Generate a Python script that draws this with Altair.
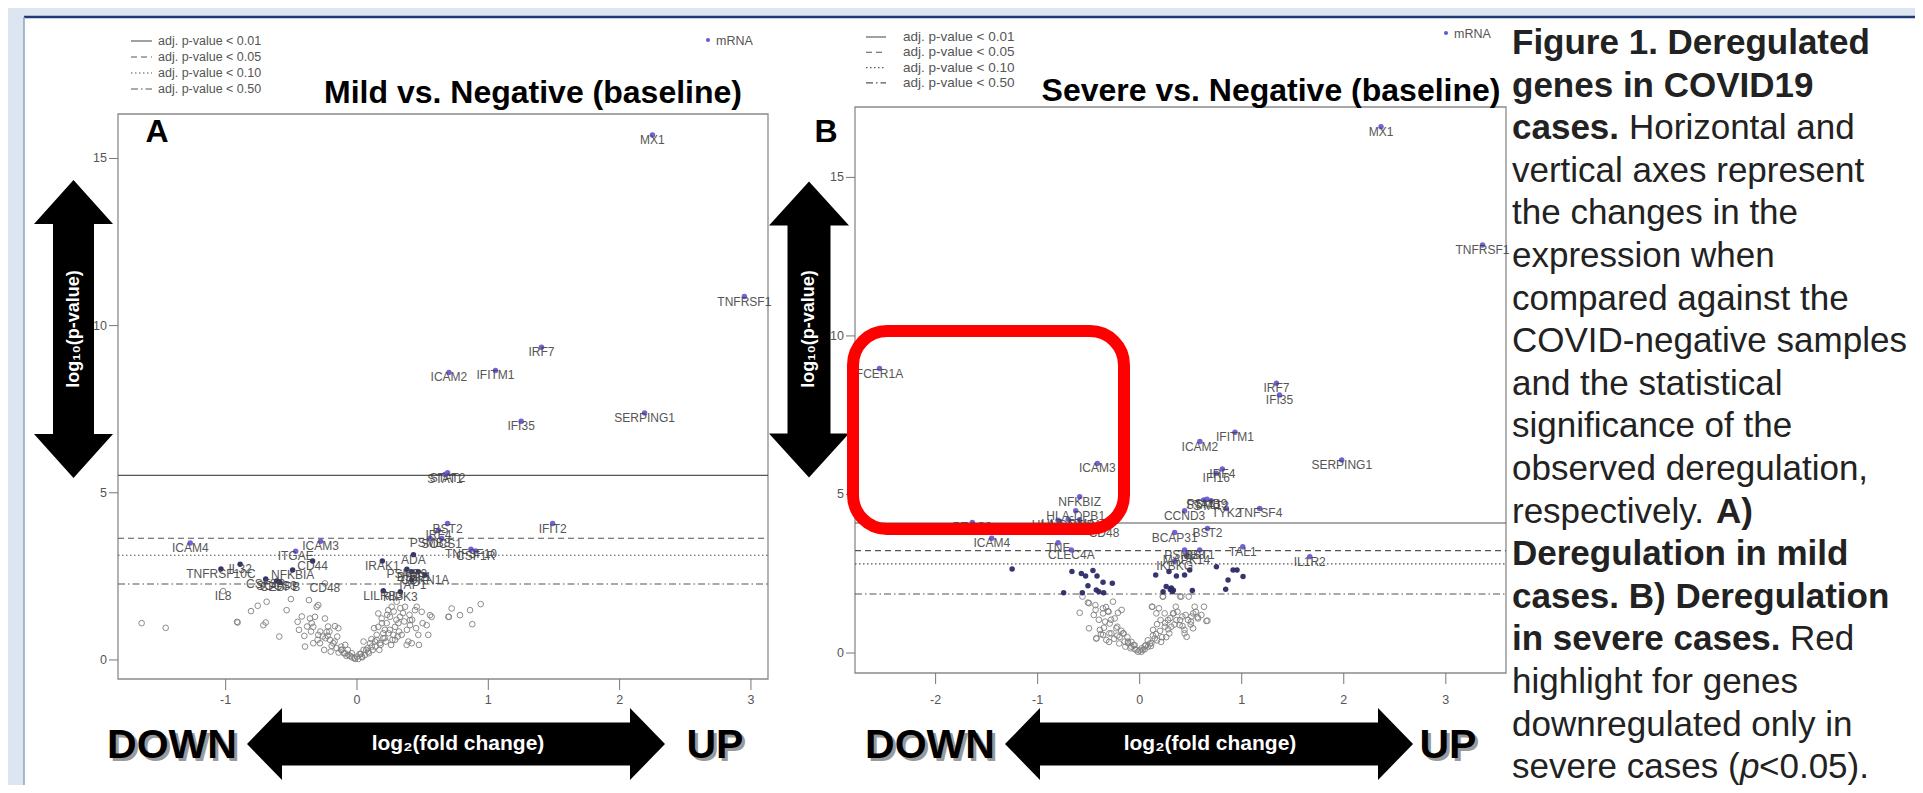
import altair as alt
import pandas as pd

# ---------------- data ----------------
# Panel A: Mild vs. Negative (baseline) -- labelled genes
A_genes = ["MX1", "TNFRSF1", "IRF7", "ICAM2", "IFITM1", "IFI35", "SERPING1", "STAT1", "STAT2",
           "BST2", "IFIT2", "IRF4", "PSMB8", "SOCS1", "TNFSF10", "CSF1R", "ADA", "IRAK1",
           "PSMB9", "BST1", "CDKN1A", "TAP1", "IRF1", "LILRB3", "RIPK3", "ICAM4", "ICAM3",
           "ITGAE", "CD44", "IL32", "TNFRSF10C", "NFKBIA", "CSF3R", "SOCS3", "CEBPB", "CD48", "IL8"]
A_lfc = [2.25, 2.95, 1.405, 0.70, 1.055, 1.25, 2.19, 0.67, 0.69,
         0.69, 1.49, 0.62, 0.556, 0.645, 0.868, 0.904, 0.43, 0.193,
         0.38, 0.417, 0.518, 0.417, 0.467, 0.20, 0.33, -1.27, -0.277,
         -0.467, -0.338, -0.89, -1.036, -0.49, -0.695, -0.612, -0.586, -0.244, -1.02]
A_logp = [15.7, 10.87, 9.35, 8.6, 8.66, 7.14, 7.39, 5.55, 5.6,
          4.08, 4.08, 3.88, 3.64, 3.63, 3.31, 3.26, 3.15, 2.96,
          2.71, 2.64, 2.54, 2.39, 2.64, 2.07, 2.04, 3.50, 3.55,
          3.25, 2.96, 2.86, 2.72, 2.69, 2.42, 2.36, 2.32, 2.29, 2.06]
A_open_labelled = ["CD48", "IL8"]
# Panel A: non-significant genes (open grey circles)
A_ns_lfc = [-1.64, -1.457, -0.909, -0.914, -0.807, -0.756, -0.688, -0.713, -0.695, -0.592, -0.536,
            -0.503, -0.452, -0.442, -0.401, -0.396, -0.366, -0.358, -0.345, -0.333, -0.32, -0.307,
            -0.295, -0.333, -0.295, -0.282, -0.244, -0.231, -0.223, -0.206, -0.168, -0.142, -0.193,
            -0.155, -0.117, -0.091, -0.066, -0.04, -0.015, 0.01, 0.036, 0.061, 0.086, 0.112, 0.137,
            0.15, 0.162, 0.162, 0.188, 0.175, 0.20, 0.213, 0.226, 0.238, 0.251, 0.264, 0.277, 0.29,
            0.302, 0.315, 0.328, 0.340, 0.366, 0.378, 0.391, 0.404, 0.404, 0.417, 0.442, 0.455,
            0.467, 0.472, 0.493, 0.531, 0.543, 0.556, 0.569, 0.70, 0.721, 0.784, 0.861, 0.942,
            0.878, 0.696, -0.12, -0.05, 0.03, 0.07, 0.11, -0.09, 0.05, 0.24, 0.29, -0.21, -0.26,
            -0.25, -0.20, -0.18, -0.12, -0.10, -0.07, -0.04, 0.00, 0.02, 0.05, 0.08, 0.10, 0.12,
            0.15, 0.18, 0.20, 0.22, 0.25, 0.27, 0.30, 0.32, 0.35, 0.38, 0.42, 0.45, 0.50, -0.30,
            -0.35, -0.38, -0.42, -0.28, -0.22, -0.15, 0.13, 0.19, 0.23, 0.28, 0.33, 0.36, 0.40,
            -0.14, -0.08, -0.02, 0.04, 0.09, 0.14, 0.17, 0.21, 0.26, 0.31, -0.17, -0.24]
A_ns_logp = [1.10, 0.96, 1.12, 1.14, 1.46, 1.62, 1.74, 1.04, 1.12, 0.70, 1.49,
             1.82, 1.14, 0.90, 0.72, 0.40, 1.79, 1.24, 1.10, 0.99, 1.29, 1.59,
             1.64, 0.50, 0.75, 0.50, 1.24, 0.84, 0.72, 0.60, 1.01, 0.95, 0.42,
             0.35, 0.30, 0.20, 0.15, 0.08, 0.03, 0.03, 0.10, 0.15, 0.25, 0.40, 0.55,
             0.75, 0.99, 1.39, 1.24, 0.50, 0.65, 0.90, 1.10, 1.49, 1.29, 1.59, 0.75, 0.99,
             1.74, 1.10, 1.29, 0.75, 1.59, 0.45, 0.55, 1.19, 1.04, 0.50, 1.49, 1.59,
             0.75, 0.45, 1.44, 1.04, 0.75, 1.34, 1.29, 1.29, 1.54, 1.34, 1.49, 1.67,
             1.07, 1.29, 0.30, 0.12, 0.18, 0.30, 0.62, 0.45, 0.55, 0.80, 0.60, 0.85, 0.70,
             0.30, 0.25, 0.50, 0.40, 0.20, 0.30, 0.20, 0.10, 0.18, 0.30, 0.35, 0.50, 0.30,
             0.60, 0.45, 0.80, 0.55, 0.90, 0.60, 1.20, 0.85, 1.40, 0.90, 1.20, 0.95, 1.10, 0.60,
             0.85, 1.00, 1.30, 0.85, 1.00, 0.70, 0.95, 1.10, 1.35, 1.45, 1.55, 1.15, 1.35,
             0.22, 0.12, 0.06, 0.08, 0.20, 0.40, 0.30, 0.65, 0.45, 0.70, 0.55, 0.65]

# Panel B: Severe vs. Negative (baseline) -- labelled genes
B_genes = ["MX1", "TNFRSF1", "FCER1A", "IRF7", "IFI35", "IFITM1", "ICAM2", "SERPING1", "ICAM3",
           "IRF4", "IFI16", "NFKBIZ", "HLA-DPB1", "HLA-DRA", "HLA-DMA", "HLA-DPA1", "STAT1",
           "PSMB9", "STAT2", "TYK2", "TNFSF4", "CCND3", "PTGS2", "CD48", "ICAM4", "TNF", "CLEC4A",
           "BCAP31", "BST2", "TAL1", "IL1R2", "PSMB8", "BST1", "MAPK14", "IKBKG"]
B_lfc = [2.365, 3.36, -2.55, 1.34, 1.37, 0.934, 0.59, 1.98, -0.415,
         0.81, 0.75, -0.588, -0.627, -0.80, -0.70, -0.59, 0.627,
         0.66, 0.70, 0.85, 1.176, 0.44, -1.64, -0.35, -1.45, -0.80, -0.67,
         0.343, 0.664, 1.01, 1.667, 0.44, 0.588, 0.458, 0.343]
B_logp = [16.6, 12.87, 8.97, 8.51, 8.14, 6.96, 6.67, 6.09, 5.98,
          5.80, 5.67, 4.93, 4.49, 4.19, 4.22, 4.20, 4.83,
          4.85, 4.80, 4.56, 4.56, 4.49, 4.12, 3.95, 3.62, 3.48, 3.25,
          3.80, 3.93, 3.35, 3.04, 3.25, 3.25, 3.09, 2.90]
# Panel B: significant but unlabelled genes (filled navy)
B_sig_lfc = [-1.25, -0.664, -0.572, -0.53, -0.458, -0.418, -0.359, -0.268, -0.507, -0.425, -0.353,
             -0.745, -0.562, -0.40, 0.157, 0.287, 0.36, 0.44, 0.49, 0.752, 0.915, 0.954, 1.013,
             0.866, 0.843, 0.516, 0.30, 0.31, 0.32, 0.33, 0.229, 0.26]
B_sig_logp = [2.65, 2.57, 2.51, 2.43, 2.60, 2.43, 2.23, 2.20, 2.12, 1.99, 1.90,
              1.90, 1.90, 1.93, 2.46, 2.57, 2.43, 2.46, 2.62, 2.72, 2.62, 2.62, 2.41,
              2.30, 2.01, 1.97, 2.00, 2.05, 1.93, 1.98, 1.93, 2.10]
# Panel B: non-significant genes (open grey circles)
B_ns_lfc = [-0.588, -0.507, -0.434, -0.497, -0.359, -0.31, -0.245, -0.294, -0.213, -0.425, -0.359,
            -0.327, -0.278, -0.229, -0.196, -0.164, -0.147, -0.115, -0.081, -0.049, -0.017, 0.017,
            0.049, 0.081, 0.115, 0.147, 0.131, 0.17, 0.124, 0.189, 0.229, 0.245, 0.278, 0.31, 0.327,
            0.36, 0.392, 0.418, 0.408, 0.44, 0.474, 0.507, 0.523, 0.572, 0.605, 0.654, 0.539,
            -0.561, -0.497, -0.432, -0.36, -0.305, -0.262, -0.177, -0.339, -0.39, -0.424, -0.297,
            -0.22, -0.157, -0.114, 0.12, 0.163, 0.205, 0.247, 0.29, 0.332, 0.354, 0.396, 0.439,
            0.46, 0.503, 0.524, 0.567, 0.63, 0.664, 0.481, 0.396, 0.226, -0.06, 0.06, -0.03, 0.03,
            -0.30, -0.25, -0.20, -0.18, -0.12, -0.08, -0.05, 0.00, 0.05, 0.08, 0.10, 0.13, 0.17,
            0.20, 0.22, 0.25, 0.28, 0.30, 0.34, 0.37, 0.42, 0.45, 0.50, 0.55, -0.35, -0.40, -0.45,
            -0.33, -0.28, -0.38, -0.14, -0.09, 0.02, 0.11, 0.16, 0.21, -0.22, 0.26]
B_ns_logp = [1.27, 1.59, 1.51, 0.78, 1.25, 1.32, 1.09, 0.93, 1.27, 0.46, 0.57,
             0.41, 0.62, 0.78, 0.51, 0.62, 0.36, 0.31, 0.20, 0.12, 0.04, 0.04,
             0.12, 0.20, 0.31, 0.46, 0.73, 0.91, 1.46, 1.41, 1.78, 1.25, 1.04, 0.83, 1.25,
             1.04, 0.88, 1.15, 1.78, 0.62, 1.04, 1.15, 0.78, 1.09, 1.20, 1.01, 1.46,
             1.78, 1.57, 1.36, 1.41, 1.30, 1.62, 1.36, 0.99, 0.73, 0.46, 0.62,
             0.83, 0.62, 0.36, 1.46, 1.25, 1.04, 0.83, 0.62, 1.25, 1.46, 1.04, 0.73,
             0.51, 0.99, 1.25, 1.13, 1.46, 1.02, 1.78, 1.78, 1.78, 0.25, 0.25, 0.10, 0.10,
             0.35, 0.45, 0.30, 0.70, 0.50, 0.35, 0.25, 0.08, 0.22, 0.40, 0.30, 0.55, 0.40,
             0.70, 0.50, 0.95, 0.75, 1.10, 0.90, 1.30, 0.85, 1.20, 0.90, 1.30, 0.80, 1.05, 1.20,
             1.45, 1.05, 0.60, 0.20, 0.15, 0.15, 0.22, 0.60, 0.35, 0.55, 0.50]

# thresholds (-log10 p) for adj. p-value < 0.01 / 0.05 / 0.10 / 0.50
A_thr = [5.52, 3.64, 3.13, 2.27]
B_thr = [4.10, 3.23, 2.81, 1.86]
thr_names = ["adj. p-value < 0.01", "adj. p-value < 0.05", "adj. p-value < 0.10", "adj. p-value < 0.50"]
A_xticks = [-1, 0, 1, 2, 3]
B_xticks = [-2, -1, 0, 1, 2, 3]
yticks = [0, 5, 10, 15]

caption = [
    [("Figure 1. Deregulated", "bold", "normal")],
    [("genes in COVID19", "bold", "normal")],
    [("cases.", "bold", "normal"), ("Horizontal and", "normal", "normal")],
    [("vertical axes represent", "normal", "normal")],
    [("the changes in the", "normal", "normal")],
    [("expression when", "normal", "normal")],
    [("compared against the", "normal", "normal")],
    [("COVID-negative samples", "normal", "normal")],
    [("and the statistical", "normal", "normal")],
    [("significance of the", "normal", "normal")],
    [("observed deregulation,", "normal", "normal")],
    [("respectively.", "normal", "normal"), ("A)", "bold", "normal")],
    [("Deregulation in mild", "bold", "normal")],
    [("cases. B) Deregulation", "bold", "normal")],
    [("in severe cases.", "bold", "normal"), ("Red", "normal", "normal")],
    [("highlight for genes", "normal", "normal")],
    [("downregulated only in", "normal", "normal")],
    [("severe cases (", "normal", "normal"), ("p", "normal", "italic"), ("<0.05).", "normal", "normal")],
]
caption_seg_x = {(2, 1): 1629, (11, 1): 1716, (14, 1): 1790, (17, 1): 1740, (17, 2): 1759}

# ---------------- styling / layout ----------------
FONT = "Liberation Sans, Arial, sans-serif"
VIOLET = "#6a5ad6"
NAVY = "#2c2a68"
GREY = "#808080"
OFF = 8  # page margin: full-image px -> view px
one = pd.DataFrame({"k": [0]})
layers = []


def v(p):
    return p - OFF


def txt(s, x, y, size, weight="normal", color="#222222", align="center", baseline="middle",
        angle=0, font=FONT, style="normal"):
    kw = dict(text=s, fontSize=size, fontWeight=weight, color=color, align=align,
              baseline=baseline, font=font, fontStyle=style)
    if angle:
        kw["angle"] = angle
    return alt.Chart(one).mark_text(**kw).encode(x=alt.value(v(x)), y=alt.value(v(y)))


def rect(x1, y1, x2, y2, fill=None, stroke=None, sw=0, radius=0):
    kw = {}
    if fill:
        kw["fill"] = fill
    else:
        kw["fillOpacity"] = 0
    if stroke:
        kw["stroke"] = stroke
        kw["strokeWidth"] = sw
    if radius:
        kw["cornerRadius"] = radius
    return alt.Chart(one).mark_rect(**kw).encode(
        x=alt.value(v(x1)), x2=alt.value(v(x2)), y=alt.value(v(y1)), y2=alt.value(v(y2)))


def hline(x1, x2, y, color="#555555", sw=1, dash=None):
    kw = dict(color=color, strokeWidth=sw)
    if dash:
        kw["strokeDash"] = dash
    return alt.Chart(one).mark_rule(**kw).encode(
        x=alt.value(v(x1)), x2=alt.value(v(x2)), y=alt.value(v(y)))


def shape(cx, cy, path, color="black"):
    return alt.Chart(one).mark_point(shape=path, filled=True, fill=color, size=4, opacity=1,
                                     strokeWidth=0).encode(x=alt.value(v(cx)), y=alt.value(v(cy)))


def harrow_path(L, h, H, S):
    a = L - h
    return (f"M {-L} 0 L {-a} {-H} L {-a} {-S} L {a} {-S} L {a} {-H} L {L} 0 "
            f"L {a} {H} L {a} {S} L {-a} {S} L {-a} {H} Z")


def varrow_path(L, h, H, S):
    a = L - h
    return (f"M 0 {-L} L {H} {-a} L {S} {-a} L {S} {a} L {H} {a} L 0 {L} "
            f"L {-H} {a} L {-S} {a} L {-S} {-a} L {-H} {-a} Z")


DASHES = [None, [6, 4], [1.5, 2.5], [7, 3, 1.5, 3]]

# background, white slide area, borders
layers.append(rect(0, 0, 1940, 800, fill="#dce5f0"))
layers.append(rect(24, 17, 1940, 800, fill="white"))
layers.append(hline(24, 1940, 17, color="#1f3b73", sw=2.5))
layers.append(alt.Chart(one).mark_rule(color="#8fa3c0", strokeWidth=1.5).encode(
    x=alt.value(v(24)), y=alt.value(v(17)), y2=alt.value(v(800))))


def panel(genes, lfc, logp, open_lab, ns_x, ns_y, sig_x, sig_y, thr, tier_cut,
          xdom, xrng, ydom, yrng, xticks, font_lab=12):
    xs = alt.Scale(domain=xdom, range=[v(xrng[0]), v(xrng[1])], nice=False, zero=False)
    ys = alt.Scale(domain=ydom, range=[v(yrng[1]), v(yrng[0])], nice=False, zero=False)
    X = lambda f: alt.X(f, type="quantitative", scale=xs, axis=None)
    Y = lambda f: alt.Y(f, type="quantitative", scale=ys, axis=None)
    out = []
    box = pd.DataFrame({"x1": [xdom[0]], "x2": [xdom[1]], "y1": [ydom[0]], "y2": [ydom[1]]})
    out.append(alt.Chart(box).mark_rect(fillOpacity=0, stroke="#8a8a8a", strokeWidth=1.3).encode(
        x=X("x1"), x2="x2", y=Y("y1"), y2="y2"))
    for t, d in zip(thr, DASHES):
        df = pd.DataFrame({"y": [t], "x1": [xdom[0]], "x2": [xdom[1]]})
        kw = dict(color="#555555", strokeWidth=1.1)
        if d:
            kw["strokeDash"] = d
        out.append(alt.Chart(df).mark_rule(**kw).encode(x=X("x1"), x2="x2", y=Y("y")))
    ns = pd.DataFrame({"lfc": ns_x, "logp": ns_y})
    lab = pd.DataFrame({"gene": genes, "lfc": lfc, "logp": logp})
    opened = lab[lab.gene.isin(open_lab)]
    ns = pd.concat([ns, opened[["lfc", "logp"]]])
    out.append(alt.Chart(ns).mark_point(shape="circle", filled=False, color=GREY, size=32,
                                        strokeWidth=1, opacity=0.9).encode(x=X("lfc"), y=Y("logp")))
    filled = lab[~lab.gene.isin(open_lab)].copy()
    if sig_x:
        filled = pd.concat([filled, pd.DataFrame({"gene": "", "lfc": sig_x, "logp": sig_y})])
    filled["tier"] = ["hi" if p >= tier_cut else "lo" for p in filled.logp]
    out.append(alt.Chart(filled).mark_circle(size=30, opacity=0.95).encode(
        x=X("lfc"), y=Y("logp"),
        color=alt.Color("tier:N", scale=alt.Scale(domain=["hi", "lo"], range=[VIOLET, NAVY]),
                        legend=None)))
    out.append(alt.Chart(lab).mark_text(fontSize=font_lab, font=FONT, color="#444444", dy=5,
                                        opacity=0.9).encode(x=X("lfc"), y=Y("logp"), text="gene:N"))
    bottom = yrng[1]
    left = xrng[0]
    xt = pd.DataFrame({"t": xticks, "s": [str(t) for t in xticks]})
    out.append(alt.Chart(xt).mark_rule(color="#777777", strokeWidth=1).encode(
        x=X("t"), y=alt.value(v(bottom)), y2=alt.value(v(bottom + 11))))
    out.append(alt.Chart(xt).mark_text(fontSize=12.5, font=FONT, color="#555555").encode(
        x=X("t"), y=alt.value(v(700)), text="s:N"))
    yt = pd.DataFrame({"t": yticks, "s": [str(t) for t in yticks]})
    out.append(alt.Chart(yt).mark_rule(color="#777777", strokeWidth=1).encode(
        y=Y("t"), x=alt.value(v(left - 9)), x2=alt.value(v(left))))
    out.append(alt.Chart(yt).mark_text(fontSize=12.5, font=FONT, color="#555555", align="right").encode(
        y=Y("t"), x=alt.value(v(left - 11)), text="s:N"))
    return out


layers += panel(A_genes, A_lfc, A_logp, A_open_labelled, A_ns_lfc, A_ns_logp, [], [], A_thr, 3.2,
                [-1.82, 3.13], [118, 768], [-0.57, 16.33], [114, 679], A_xticks)
layers += panel(B_genes, B_lfc, B_logp, [], B_ns_lfc, B_ns_logp, B_sig_lfc, B_sig_logp, B_thr, 2.9,
                [-2.79, 3.59], [855, 1506], [-0.63, 17.22], [107, 673], B_xticks)

# legends
for i, (nm, d) in enumerate(zip(thr_names, DASHES)):
    ya = 41 + 16 * i
    layers.append(hline(131, 152, ya, color="#555555", sw=1.1, dash=d))
    layers.append(txt(nm, 158, ya, 12.5, color="#555555", align="left"))
    yb = 37 + 15.3 * i
    layers.append(hline(866, 886, yb, color="#555555", sw=1.1, dash=d))
    layers.append(txt(nm, 903, yb, 13.5, color="#555555", align="left"))
layers.append(alt.Chart(one).mark_circle(size=18, color=VIOLET, opacity=1).encode(
    x=alt.value(v(708)), y=alt.value(v(40))))
layers.append(txt("mRNA", 716, 41, 12.5, color="#555555", align="left"))
layers.append(alt.Chart(one).mark_circle(size=18, color=VIOLET, opacity=1).encode(
    x=alt.value(v(1446)), y=alt.value(v(33))))
layers.append(txt("mRNA", 1454, 34, 12.5, color="#555555", align="left"))

# titles and panel letters
layers.append(txt("Mild vs. Negative (baseline)", 533, 93, 32, weight="bold", color="black"))
layers.append(txt("Severe vs. Negative (baseline)", 1271, 91, 32, weight="bold", color="black"))
layers.append(txt("A", 157, 132, 32, weight="bold", color="black"))
layers.append(txt("B", 826, 132, 32, weight="bold", color="black"))

# arrows
layers.append(shape(73.5, 329, varrow_path(149, 44, 39.5, 20.5)))
layers.append(shape(809, 329.5, varrow_path(148, 44, 40, 21.5)))
layers.append(txt("log\u2081\u2080(p-value)", 74, 329, 18, weight="bold", color="white", angle=270))
layers.append(txt("log\u2081\u2080(p-value)", 809, 329, 18, weight="bold", color="white", angle=270))
layers.append(shape(456, 744, harrow_path(209, 35, 36, 21.5)))
layers.append(shape(1209, 744, harrow_path(204, 35, 36, 21.5)))
layers.append(txt("log\u2082(fold change)", 458, 744, 21, weight="bold", color="white"))
layers.append(txt("log\u2082(fold change)", 1210, 744, 21, weight="bold", color="white"))
for word, cx in [("DOWN", 172), ("UP", 715), ("DOWN", 930), ("UP", 1448)]:
    layers.append(txt(word, cx + 3, 749, 41, weight="bold", color="#9a9a9a"))
    layers.append(txt(word, cx, 746, 41, weight="bold", color="black"))

# red highlight
layers.append(rect(853, 331, 1124, 529, stroke="#ff0000", sw=12, radius=34))

# caption
for i, segs in enumerate(caption):
    y = 43 + 42.6 * i
    for j, (s, w, st) in enumerate(segs):
        x = caption_seg_x.get((i, j), 1512)
        layers.append(txt(s, x, y, 35, weight=w, style=st, color="#222222", align="left"))

chart = alt.layer(*layers).resolve_scale(x="independent", y="independent").properties(
    width=1907, height=777, padding=0, background="#dce5f0",
    autosize=alt.AutoSizeParams(type="none")
).configure_view(stroke=None)

chart.save("out.html", embed_options={"renderer": "svg", "actions": False})
